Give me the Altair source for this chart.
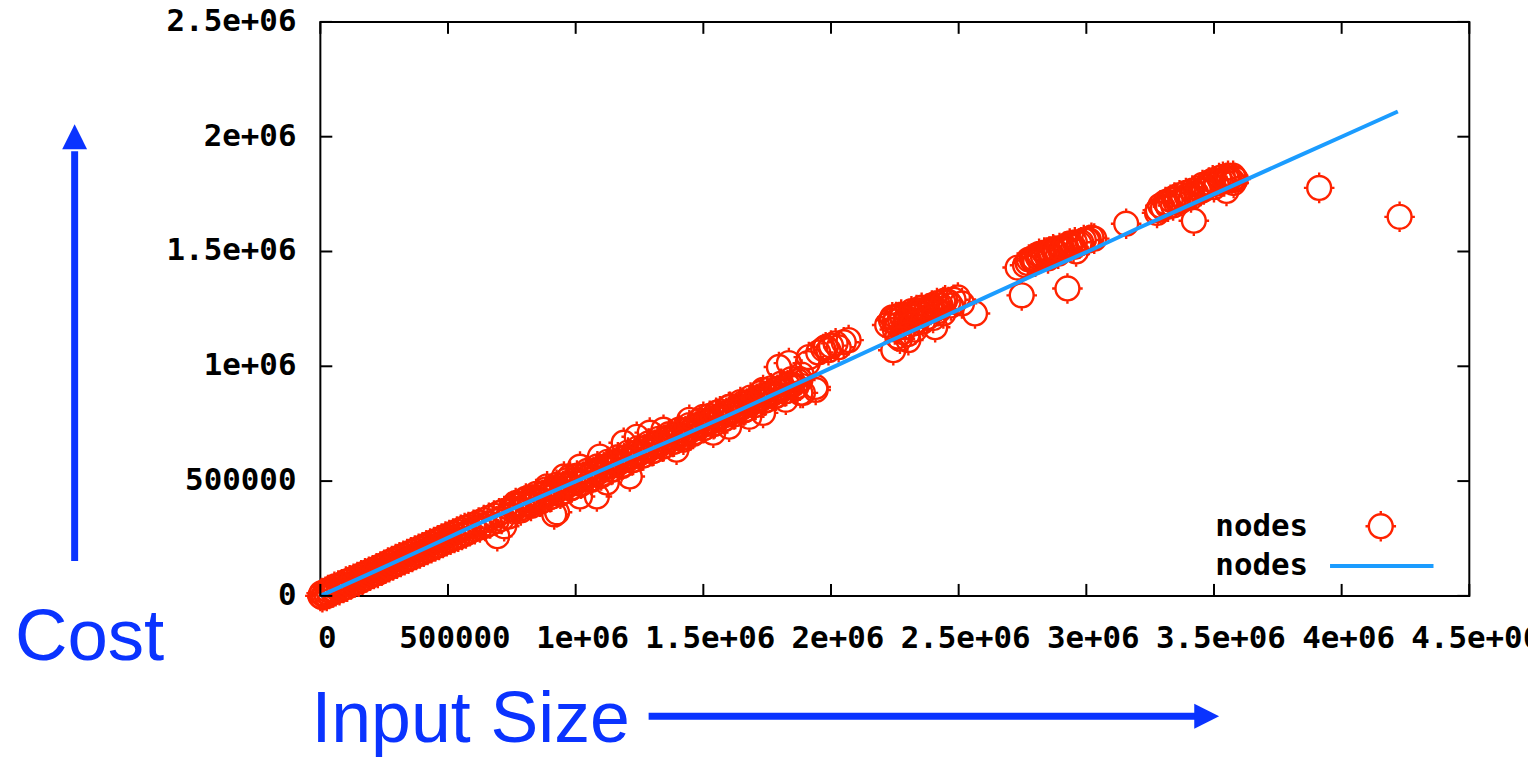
import altair as alt
import pandas as pd

# ---------------- data (point values in thousands) ----------------
x_ticks = [0, 500000, 1000000, 1500000, 2000000, 2500000, 3000000, 3500000, 4000000, 4500000]
x_labels = ["0", "500000", "1e+06", "1.5e+06", "2e+06", "2.5e+06", "3e+06", "3.5e+06", "4e+06", "4.5e+06"]
y_ticks = [0, 500000, 1000000, 1500000, 2000000, 2500000]
y_labels = ["0", "500000", "1e+06", "1.5e+06", "2e+06", "2.5e+06"]

band_x = [0, 5, 8, 15, 20, 25, 30, 35, 45, 50, 55, 60, 70, 75, 85, 90,
          100, 105, 115, 120, 130, 135, 145, 150, 160, 165, 175, 180, 190, 195, 205, 210,
          220, 225, 235, 240, 250, 255, 265, 270, 280, 285, 295, 300, 310, 315, 325, 330,
          340, 345, 355, 360, 370, 375, 385, 390, 400, 405, 415, 420, 430, 435, 445, 450,
          460, 465, 475, 480, 490, 495, 505, 510, 520, 525, 535, 540, 550, 555, 565, 570,
          580, 585, 600, 605, 620, 625, 640, 645, 660, 665, 680, 690, 700, 710, 720, 735, 745]
band_y = [0, 12, -6, 3, 18, 0, 25, 8, 30, 15, 40, 20, 45, 25, 50, 35,
          62, 40, 68, 50, 75, 58, 82, 62, 90, 70, 98, 80, 105, 88, 112, 95,
          120, 100, 128, 110, 135, 118, 145, 125, 152, 132, 160, 140, 168, 148, 175, 155,
          182, 162, 190, 170, 198, 178, 205, 185, 212, 192, 220, 200, 228, 208, 235, 215,
          242, 222, 250, 230, 258, 238, 265, 245, 272, 252, 280, 258, 288, 265, 295, 272,
          300, 282, 310, 290, 320, 298, 330, 305, 340, 315, 350, 325, 360, 335, 370, 345, 380]

mid_x = [760, 780, 800, 820, 840, 860, 880, 900, 920, 940, 960, 980, 1000, 1020, 1040, 1060,
         1080, 1100, 1120, 1140, 1160, 1180, 1200, 1220, 1240, 1260, 1280, 1300, 1320, 1340,
         1360, 1380, 1400, 1420, 1440, 1460, 1480, 1500, 1520, 1540, 1560, 1580, 1600, 1620,
         1640, 1660, 1680, 1700, 1720, 1740, 1760, 1780, 1800, 1820, 1840, 1860, 1880]
mid_y = [395, 380, 415, 398, 430, 410, 450, 430, 465, 445, 485, 468, 505, 488, 528, 505,
         548, 525, 565, 548, 585, 565, 605, 590, 625, 610, 648, 630, 668, 650,
         690, 670, 705, 690, 725, 705, 745, 730, 760, 748, 778, 770, 800, 790,
         822, 808, 845, 830, 862, 850, 880, 870, 905, 890, 925, 905, 940]

mid2_x = [770, 790, 810, 830, 850, 870, 890, 910, 930, 950, 970, 990, 1010, 1030, 1050, 1070,
          1090, 1110, 1130, 1150, 1170, 1190, 1210, 1230, 1250, 1270, 1290, 1310, 1330, 1350,
          1370, 1390, 1410, 1430, 1450, 1470, 1490, 1510, 1530, 1550, 1570, 1590, 1610, 1630,
          1650, 1670, 1690, 1710, 1730, 1750, 1770, 1790, 1810, 1830, 1850, 1870]
mid2_y = [392, 400, 400, 420, 420, 440, 440, 462, 462, 480, 482, 500, 500, 520, 522, 540,
          540, 560, 562, 580, 580, 600, 600, 618, 620, 640, 640, 658, 660, 680,
          680, 700, 700, 718, 720, 738, 740, 758, 760, 778, 780, 798, 800, 818,
          820, 838, 840, 858, 860, 878, 880, 898, 900, 918, 920, 935]

mid3_x = [765, 785, 805, 825, 845, 865, 885, 905, 925, 945, 965, 985, 1005, 1025, 1045, 1065,
          1085, 1105, 1125, 1145, 1165, 1185, 1205, 1225, 1245, 1265, 1285, 1305, 1325, 1345,
          1365, 1385, 1405, 1425, 1445, 1465, 1485, 1505, 1525, 1545, 1565, 1585, 1605, 1625,
          1645, 1665, 1685, 1705, 1725, 1745, 1765, 1785, 1805, 1825, 1845, 1865, 1885]
mid3_y = [404, 372, 424, 392, 444, 412, 464, 432, 484, 452, 504, 472, 524, 492, 544, 512,
          564, 532, 584, 552, 604, 572, 624, 592, 644, 612, 664, 632, 684, 652,
          704, 672, 724, 692, 744, 712, 764, 732, 784, 752, 804, 772, 824, 792,
          844, 812, 864, 832, 884, 852, 904, 872, 924, 892, 944, 912, 964]

spread_x = [693, 720, 760, 822, 888, 916, 927, 954, 1017, 1017, 978, 1083, 1095, 1122, 1188,
            1212, 1239, 1290, 1344, 1395, 1422, 1445, 1500, 1539, 1550, 1600, 1601, 1656,
            1680, 1706, 1734, 1734, 1796, 1823, 1835, 1890, 1913, 1940, 1979, 2018,
            1909, 1940, 1880, 1990, 2030, 2069, 1950, 1970, 2000, 2050,
            2240, 2244, 2279, 2303, 2318, 2357, 2396, 2408, 2447, 2497, 2513, 2564,
            2260, 2340, 2380, 2420, 2470, 2250, 2270, 2290, 2310, 2330, 2350, 2370, 2390,
            2410, 2430, 2460, 2480, 2280, 2330, 2260,
            2220, 2235, 2255, 2275, 2295, 2315, 2335, 2355, 2375, 2395, 2415, 2440,
            2250, 2290, 2320, 2360, 2400, 2440, 2300, 2270,
            2731, 2747, 2786, 2817, 2844, 2875, 2906, 2926, 2938, 2973, 3004, 3031,
            2760, 2800, 2850, 2890, 2960, 2770, 2790, 2810, 2830, 2860, 2880, 2900, 2920,
            2950, 2980, 3010,
            2775, 2795, 2815, 2835, 2855, 2870, 2895, 2915, 2935, 2955, 2990, 3020,
            3156, 3277, 3315, 3355, 3393, 3421, 3448, 3487, 3526, 3549, 3549, 3577,
            3300, 3340, 3370, 3410, 3460, 3500, 3570, 3280, 3320, 3350, 3380, 3400, 3430,
            3470, 3510, 3540, 3560, 3580,
            3290, 3310, 3330, 3345, 3365, 3390, 3415, 3440, 3455, 3480, 3495, 3520,
            3535, 3555, 3575, 3585,
            3912, 4227]
spread_y = [260, 303, 377, 420, 477, 355, 364, 520, 563, 433, 520, 433, 607, 494, 667,
            520, 693, 711, 724, 637, 680, 767, 780, 711, 797, 823, 737, 840,
            780, 854, 797, 897, 997, 854, 1014, 884, 1040, 910, 1083, 1100,
            1014, 897, 884, 1070, 1083, 1114, 1060, 1075, 1090, 1105,
            1213, 1070, 1213, 1114, 1230, 1244, 1257, 1170, 1287, 1300, 1274, 1230,
            1180, 1200, 1215, 1240, 1265, 1195, 1205, 1190, 1225, 1215, 1230, 1235, 1245,
            1250, 1265, 1280, 1290, 1150, 1160, 1130,
            1180, 1200, 1215, 1225, 1210, 1240, 1245, 1255, 1250, 1265, 1275, 1280,
            1160, 1170, 1185, 1195, 1210, 1230, 1140, 1120,
            1430, 1309, 1469, 1482, 1495, 1504, 1512, 1339, 1525, 1534, 1547, 1556,
            1440, 1455, 1470, 1490, 1500, 1450, 1460, 1475, 1480, 1490, 1500, 1505, 1515,
            1520, 1540, 1550,
            1465, 1470, 1490, 1495, 1500, 1510, 1515, 1520, 1535, 1540, 1550, 1560,
            1621, 1668, 1707, 1729, 1742, 1634, 1764, 1794, 1807, 1820, 1764, 1798,
            1690, 1700, 1720, 1735, 1770, 1780, 1810, 1680, 1695, 1715, 1730, 1745, 1755,
            1780, 1795, 1805, 1815, 1820,
            1700, 1715, 1725, 1735, 1745, 1755, 1765, 1775, 1790, 1800, 1810, 1820,
            1825, 1830, 1830, 1815,
            1777, 1651]

line_x = [0, 200, 400, 600, 800, 1000, 1200, 1400, 1600, 1800, 2000, 2200, 2400, 2600,
          2800, 3000, 3200, 3400, 3600, 3800, 4000, 4220]
line_y = [0, 100, 202, 305, 402, 498, 595, 690, 788, 890, 992, 1095, 1195, 1298,
          1400, 1497, 1600, 1700, 1800, 1900, 2000, 2110]

# ---------------- styling ----------------
W, H = 1155, 577
RED = "#ff2200"
BLUE_LINE = "#1b9cff"
ARROW = "#0a33ff"
FONT = "DejaVu Sans Mono"
TEXT_FONT = "Liberation Sans"

all_x = band_x + mid_x + mid2_x + mid3_x + spread_x
all_y = band_y + mid_y + mid2_y + mid3_y + spread_y
pts = pd.DataFrame({"size": [v * 1000 for v in all_x], "cost": [v * 1000 for v in all_y]})
fit = pd.DataFrame({"size": [v * 1000 for v in line_x], "cost": [v * 1000 for v in line_y]})
xt = pd.DataFrame({"t": x_ticks, "lab": x_labels})
yt = pd.DataFrame({"t": y_ticks, "lab": y_labels})
one = pd.DataFrame({"k": [0]})

x_scale = alt.Scale(domain=[0, 4500000], nice=False, zero=False)
y_scale = alt.Scale(domain=[0, 2500000], nice=False, zero=False)
X = lambda f: alt.X(f, scale=x_scale, axis=None)
Y = lambda f: alt.Y(f, scale=y_scale, axis=None)

ring = "M1,0A1,1,0,1,1,-1,0A1,1,0,1,1,1,0ZM1,0L1.28,0M-1,0L-1.28,0M0,1L0,1.28M0,-1L0,-1.28"

scatter = alt.Chart(pts).mark_point(
    shape=ring, size=576, filled=False, strokeWidth=2.4, color=RED, opacity=1
).encode(x=X("size:Q"), y=Y("cost:Q"))

fitline = alt.Chart(fit).mark_line(color=BLUE_LINE, strokeWidth=4).encode(
    x=X("size:Q"), y=Y("cost:Q"))

# gnuplot-style inward ticks on all four sides
tick_style = dict(color="black", strokeWidth=2)
xt_bottom = alt.Chart(xt).mark_rule(**tick_style).encode(
    x=X("t:Q"), y=alt.value(H), y2=alt.value(H - 12))
xt_top = alt.Chart(xt).mark_rule(**tick_style).encode(
    x=X("t:Q"), y=alt.value(0), y2=alt.value(12))
yt_left = alt.Chart(yt).mark_rule(**tick_style).encode(
    y=Y("t:Q"), x=alt.value(0), x2=alt.value(12))
yt_right = alt.Chart(yt).mark_rule(**tick_style).encode(
    y=Y("t:Q"), x=alt.value(W), x2=alt.value(W - 12))

# tick labels placed through the scales
lab_style = dict(font=FONT, fontWeight="bold", fontSize=31, color="black")
x_lab = alt.Chart(xt).mark_text(align="center", baseline="top", dx=7, **lab_style).encode(
    x=X("t:Q"), y=alt.value(H + 28), text="lab:N")
y_lab = alt.Chart(yt).mark_text(align="right", baseline="middle", **lab_style).encode(
    y=Y("t:Q"), x=alt.value(-24), text="lab:N")

# legend (gnuplot style, inside bottom right)
leg_style = dict(align="right", baseline="middle", **lab_style)
leg_t1 = alt.Chart(one).mark_text(text="nodes", **leg_style).encode(
    x=alt.value(993), y=alt.value(508))
leg_t2 = alt.Chart(one).mark_text(text="nodes", **leg_style).encode(
    x=alt.value(993), y=alt.value(547))
leg_sym = alt.Chart(one).mark_point(
    shape=ring, size=576, filled=False, strokeWidth=2.4, color=RED, opacity=1
).encode(x=alt.value(1066), y=alt.value(507))
leg_line = alt.Chart(one).mark_rule(color=BLUE_LINE, strokeWidth=4).encode(
    x=alt.value(1015), x2=alt.value(1119), y=alt.value(547))

# annotation arrows and texts
cost_txt = alt.Chart(one).mark_text(
    text="Cost", font=TEXT_FONT, fontSize=73, color=ARROW, align="left", baseline="alphabetic"
).encode(x=alt.value(-307), y=alt.value(641))
input_txt = alt.Chart(one).mark_text(
    text="Input Size", font=TEXT_FONT, fontSize=72, color=ARROW, align="left",
    baseline="alphabetic"
).encode(x=alt.value(-9), y=alt.value(724))
v_shaft = alt.Chart(one).mark_rule(color=ARROW, strokeWidth=7).encode(
    x=alt.value(-247), y=alt.value(542), y2=alt.value(130))
v_head = alt.Chart(one).mark_point(
    shape="M0,-1L1,1L-1,1Z", size=625, filled=True, color=ARROW, opacity=1, strokeWidth=0
).encode(x=alt.value(-247), y=alt.value(115.5))
h_shaft = alt.Chart(one).mark_rule(color=ARROW, strokeWidth=7).encode(
    x=alt.value(330), x2=alt.value(882), y=alt.value(698))
h_head = alt.Chart(one).mark_point(
    shape="M1,0L-1,1L-1,-1Z", size=625, filled=True, color=ARROW, opacity=1, strokeWidth=0
).encode(x=alt.value(891), y=alt.value(698))

chart = alt.layer(
    scatter, fitline, xt_bottom, xt_top, yt_left, yt_right, x_lab, y_lab,
    leg_t1, leg_t2, leg_sym, leg_line,
    cost_txt, input_txt, v_shaft, v_head, h_shaft, h_head,
).properties(
    width=W, height=H,
    padding={"left": 314, "top": 12, "right": 59, "bottom": 162},
    autosize=alt.AutoSizeParams(type="none"),
    background="white",
).configure_view(stroke="black", strokeWidth=2)

chart.save("out.html", embed_options={"renderer": "svg", "actions": False})
